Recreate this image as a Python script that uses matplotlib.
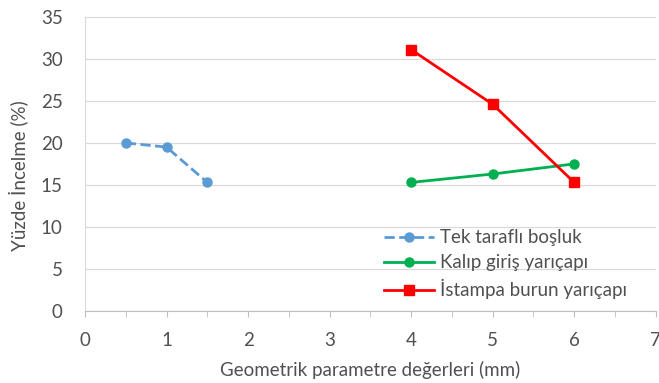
import numpy as np
import matplotlib.pyplot as plt

plt.rcParams['font.family'] = ['Lato', 'DejaVu Sans']

# series
x_tek = [0.5, 1.0, 1.5]
y_tek = [20.0, 19.5, 15.3]
x_kalip = [4, 5, 6]
y_kalip = [15.3, 16.3, 17.5]
x_istampa = [4, 5, 6]
y_istampa = [31.1, 24.6, 15.3]

labels = ['Tek taraflı boşluk', 'Kalıp giriş yarıçapı', 'İstampa burun yarıçapı']

txt = '#505050'

fig = plt.figure(figsize=(6.59, 3.83), dpi=100)
ax = fig.add_axes([0.129, 0.188, 0.866, 0.768])

ax.plot(x_tek, y_tek, color='#5B9BD5', ls='--', lw=2, marker='o', ms=6.5, label=labels[0])
ax.plot(x_kalip, y_kalip, color='#00B050', ls='-', lw=2, marker='o', ms=6.5, label=labels[1])
ax.plot(x_istampa, y_istampa, color='#FF0000', ls='-', lw=2, marker='s', ms=6.5, label=labels[2])

ax.set_xlim(0, 7)
ax.set_ylim(0, 35)
ax.set_xticks(range(0, 8))
ax.set_xticks(np.arange(0, 7.01, 0.5), minor=True)
ax.set_yticks(range(0, 36, 5))
ax.grid(axis='y', color='#d9d9d9', lw=0.9)
ax.set_axisbelow(True)

for s in ['top', 'right']:
    ax.spines[s].set_visible(False)
ax.spines['left'].set_color('#d9d9d9')
ax.spines['bottom'].set_color('#bfbfbf')
ax.tick_params(axis='y', length=0, labelsize=13.5, colors=txt, pad=16)
ax.tick_params(axis='x', which='both', length=4, color='#bfbfbf', labelsize=13.5, labelcolor=txt, pad=11)

ax.set_xlabel('Geometrik parametre değerleri (mm)', fontsize=13.5, color=txt, labelpad=9)
ax.set_ylabel('Yüzde İncelme (%)', fontsize=13.5, color=txt)
ax.yaxis.set_label_coords(-0.097, 0.46)

leg = ax.legend(loc='lower left', bbox_to_anchor=(0.51, 0.014), borderaxespad=0, frameon=False,
                fontsize=13.5, handlelength=2.7, handletextpad=0.3, labelspacing=0.43)
for t in leg.get_texts():
    t.set_color(txt)

fig.savefig('out.png', dpi=100)
